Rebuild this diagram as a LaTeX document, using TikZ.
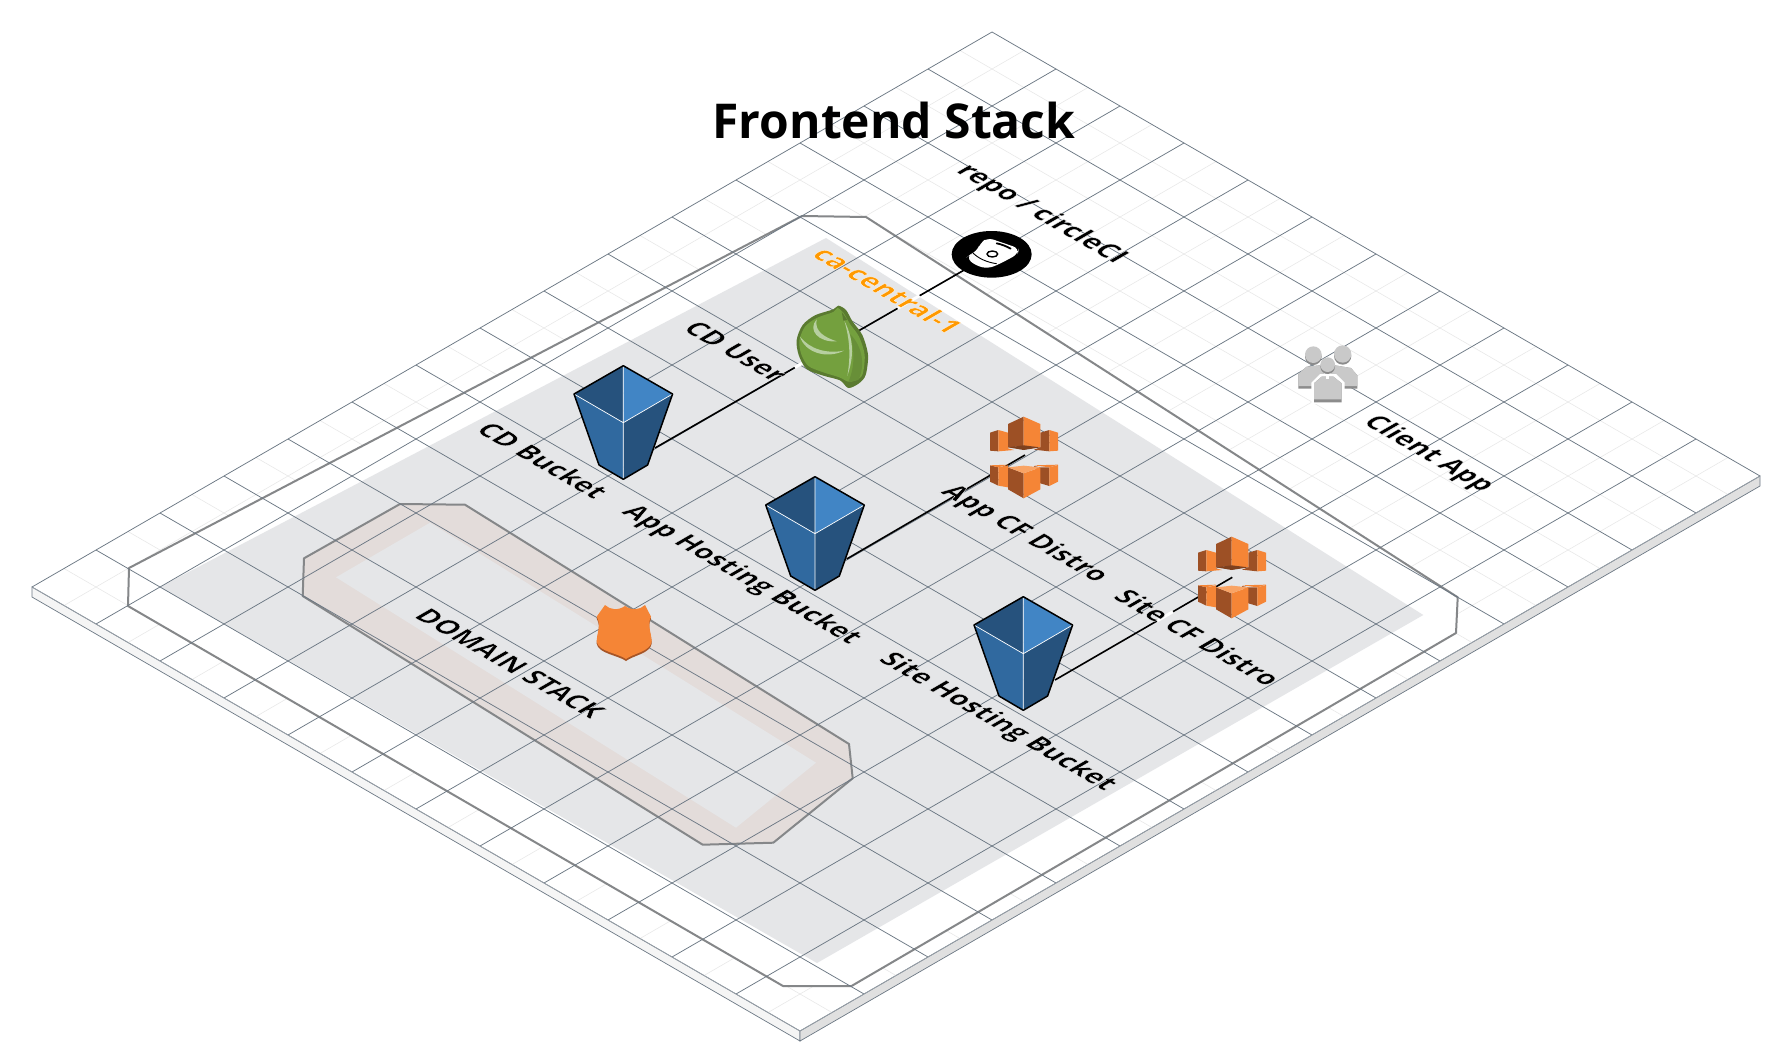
\documentclass[tikz,border=0pt]{standalone}
\usepackage{fontspec}
\usetikzlibrary{calc}
\setmainfont{Open Sans}
\newfontfamily\titlefont[UprightFont=* Bold]{Open Sans}
\newfontfamily\lblfont[UprightFont=* Bold,FakeBold=1.2]{Open Sans}
\definecolor{gridmaj}{HTML}{6C7884}
\definecolor{gridback}{HTML}{98A0A8}
\definecolor{gridmin}{HTML}{E9E9E9}
\definecolor{regiongray}{HTML}{E5E6E8}
\definecolor{beige}{HTML}{E3DCDA}
\definecolor{outlinegray}{HTML}{858789}
\definecolor{awsorange}{HTML}{F58536}
\definecolor{awsdark}{HTML}{9D5025}
\definecolor{awstop}{HTML}{F9A465}
\definecolor{bdark}{HTML}{26527D}
\definecolor{blight}{HTML}{4185C5}
\definecolor{bmid}{HTML}{30699F}
\definecolor{leaf}{HTML}{74A03E}
\definecolor{leafd}{HTML}{5A7A30}
\definecolor{leafm}{HTML}{688F38}
\definecolor{leafl}{HTML}{B7CFA0}
\definecolor{pgray}{HTML}{C9C9C9}
\definecolor{pdark}{HTML}{8C8C8C}
\definecolor{regionorange}{HTML}{FF9900}
\tikzset{
  majline/.style={draw=gridmaj,line width=0.75pt},
  minline/.style={draw=gridmin,line width=0.6pt},
  hull/.style={draw=outlinegray,line width=2pt,line join=round},
  conn/.style={draw=black,line width=1.6pt},
  labelgap/.style={draw=white,line width=3pt},
  zoomscale/.style={x=0.33333pt,y=-0.33333pt}
}
\newcommand\isolabel[5][black]{%
  \begin{scope}[cm={.866,-.5,.866,.5,(#3,#4)}]
  \node[transform shape,inner sep=0pt,text=#1] (#2) at (0,0)
    {\fontsize{27}{30}\selectfont\lblfont\special{pdf:code 1 1 1 RG}#5};
  \end{scope}}
\newcommand\awsbucket[3]{%
  \begin{scope}[shift={(#2,#3)}]
  \fill[bdark] (0,0) -- (-49.3,28.3) -- (0,57) -- cycle;
  \fill[blight] (0,0) -- (49.3,28.3) -- (0,57) -- cycle;
  \fill[bmid] (-49.3,28.3) -- (0,57) -- (0,113.6) -- (-24.3,99.3) -- cycle;
  \fill[bdark] (49.3,28.3) -- (0,57) -- (0,113.6) -- (24.3,99.3) -- cycle;
  \draw[white,line width=0.7pt] (-49.3,28.3) -- (0,57) -- (49.3,28.3) (0,0) -- (0,113.6);
  \draw[black,line width=1.5pt,line join=round] (0,0) -- (49.3,28.3) -- (24.3,99.3) -- (0,113.6) -- (-24.3,99.3) -- (-49.3,28.3) -- cycle;
  \end{scope}}
\newcommand\cficon[2]{%
  \begin{scope}[shift={(#1,#2)},zoomscale]
  % upper blocks
  \fill[awsdark] (30,68) -- (55,60) -- (55,124) -- (30,122) -- cycle;
  \fill[awsorange] (55,60) -- (84,68) -- (84,115) -- (102,120) -- (55,124) -- cycle;
  \fill[awsdark] (162,119) -- (181,112) -- (181,68) -- (208,60) -- (208,124) -- cycle;
  \fill[awsorange] (208,60) -- (234,68) -- (234,122) -- (208,124) -- cycle;
  \fill[awsdark] (84,42) -- (131,20) -- (131,108) -- (84,112) -- cycle;
  \fill[awsorange] (131,20) -- (181,42) -- (181,112) -- (131,108) -- cycle;
  \fill[awsdark!80!black] (84,112) -- (131,106) -- (181,112) -- (131,120) -- cycle;
  % lower blocks
  \fill[awsdark] (30,166) -- (55,172) -- (55,227) -- (30,215) -- cycle;
  \fill[awsorange] (55,172) -- (84,166) -- (84,232) -- (55,227) -- cycle;
  \fill[awsorange] (30,166) -- (84,164) -- (55,172) -- cycle;
  \fill[awsdark] (162,168) -- (181,172) -- (208,172) -- (208,228) -- (181,220) -- cycle;
  \fill[awsorange] (208,172) -- (234,165) -- (234,215) -- (208,228) -- cycle;
  \fill[awsorange] (162,166) -- (234,164) -- (208,172) -- cycle;
  \fill[awsdark] (84,172) -- (131,190) -- (131,265) -- (84,238) -- cycle;
  \fill[awsorange] (131,190) -- (181,172) -- (181,238) -- (131,265) -- cycle;
  \fill[awstop] (84,172) -- (131,167) -- (181,172) -- (131,190) -- cycle;
  \end{scope}}
\begin{document}
\begin{tikzpicture}[x=1pt,y=-1pt]
\fill[white] (0,0) rectangle (1792,1063);
\useasboundingbox (0,0) rectangle (1792,1063);
% named anchors
\coordinate (plL) at (32,587);
\coordinate (plT) at (992,32);
\coordinate (plR) at (1760,476);
\coordinate (plB) at (800,1031);
% platform sides
\fill[white] (plL) -- (plT) -- (plR) -- (plB) -- cycle;
\draw[fill=white!96!black,draw=gridmaj,line width=0.7pt] (plL) -- (plB) -- ++(0,10) -- ($(plL)+(0,10)$) -- cycle;
\draw[fill=white!88!black,draw=gridmaj,line width=0.7pt] (plB) -- (plR) -- ++(0,10) -- ($(plB)+(0,10)$) -- cycle;
% minor grid
\begin{scope}[shift={(32,587)},x={(64pt,37pt)},y={(64pt,-37pt)}]
\foreach \i in {0.5,1.5,...,14.5} \draw[minline] (\i,0) -- (\i,12);
\foreach \j in {0.5,1.5,...,11.5} \draw[minline] (0,\j) -- (15,\j);
\end{scope}
% outer hull
\draw[hull,fill=white] (129,568) -- (802,216) -- (866,217) -- (1457.7,597.3) -- (1456,633) -- (851.5,986) -- (783,986) -- (128,606) -- cycle;
% region
\fill[regiongray] (160,587) -- (826,238) -- (1423.3,615) -- (817,963) -- cycle;
% domain stack
\fill[beige] (400,504) -- (465,504.7) -- (849,744) -- (852.7,778.3) -- (773.3,842.7) -- (702.7,844.7) -- (302.7,596) -- (304,558.3) -- cycle;
\fill[regiongray] (336,577.3) -- (430,522.7) -- (816,762.7) -- (736,827.7) -- cycle;
\draw[hull] (400,504) -- (465,504.7) -- (849,744) -- (852.7,778.3) -- (773.3,842.7) -- (702.7,844.7) -- (302.7,596) -- (304,558.3) -- cycle;
% major grid
\begin{scope}[shift={(32,587)},x={(64pt,37pt)},y={(64pt,-37pt)}]
\foreach \i in {1,...,14} \draw[majline] (\i,0) -- (\i,12);
\foreach \j in {1,...,11} \draw[majline] (0,\j) -- (15,\j);
\draw[draw=gridback,line width=0.7pt] (0,0) -- (0,12);
\draw[draw=gridback,line width=0.7pt] (0,12) -- (15,12);
\draw[majline] (0,0) -- (15,0);
\draw[majline] (15,0) -- (15,12);
\end{scope}
% connector ends
\coordinate (bucketa) at (655,448);
\coordinate (bucketb) at (846.7,559);
\coordinate (bucketc) at (1055,680);
\coordinate (repoend) at (992,254);
\coordinate (cfa) at (1025,455);
\coordinate (cfb) at (1232.3,577.3);
\draw[conn] (bucketa) -- (repoend);
\draw[conn] (bucketb) -- (cfa);
\draw[conn] (bucketc) -- (cfb);
% where labels cross a connector, their halo breaks it
\draw[labelgap] ($(bucketa)!0.415!(repoend)$) -- ($(bucketa)!0.445!(repoend)$);
\draw[labelgap] ($(bucketa)!0.72!(repoend)$) -- ($(bucketa)!0.785!(repoend)$);
\draw[labelgap] ($(bucketb)!0.83!(cfa)$) -- ($(bucketb)!0.86!(cfa)$);
\draw[labelgap] ($(bucketc)!0.575!(cfb)$) -- ($(bucketc)!0.665!(cfb)$);
% buckets
\awsbucket{bka}{623.3}{365.7}
\awsbucket{bkb}{815}{476.7}
\awsbucket{bkc}{1023.3}{596.7}
% CloudFront
\cficon{980}{410}
\cficon{1188}{530}
% repo circle
\begin{scope}[shift={(945,215)},zoomscale]
\fill[black] (140,118) ellipse [x radius=120,y radius=70];
\fill[white,rounded corners=6pt] (128,68) -- (222,100) -- (218,118) -- (165,146) -- (130,161) -- (92,152) -- (64,128) -- (78,117) -- (95,110) -- (105,85) -- cycle;
\draw[black,line width=1.8pt,line cap=round] (155,85) .. controls (170,88) and (185,94) .. (197,101);
\draw[black,line width=1.4pt] (142,117) ellipse [x radius=16,y radius=9];
\draw[black,line width=0.9pt] (84,114) .. controls (100,130) and (125,142) .. (155,146);
\end{scope}
% CD user leaf
\begin{scope}[shift={(790,300)},zoomscale]
\fill[leafd] plot[smooth cycle] coordinates {(145,17) (168,30) (188,65) (217,105) (234,165) (227,225) (207,250) (175,264) (150,241) (100,227) (50,207) (26,165) (20,120) (38,75) (75,46) (130,28)};
\fill[leaf] plot[smooth cycle] coordinates {(142,24) (160,38) (180,72) (207,110) (224,165) (218,222) (200,240) (175,245) (148,232) (100,217) (55,198) (34,163) (28,122) (45,80) (80,54) (130,36)};
\fill[leafm] (178,100) .. controls (220,140) and (225,200) .. (205,240) -- (175,246) .. controls (195,200) and (195,150) .. (178,100) -- cycle;
\fill[leafl] (80,58) .. controls (52,90) and (85,128) .. (140,124) .. controls (105,112) and (72,95) .. (80,58) -- cycle;
\fill[leafl] (30,110) .. controls (45,158) and (110,178) .. (162,152) .. controls (110,162) and (60,148) .. (30,110) -- cycle;
\fill[leafl] (163,62) .. controls (192,120) and (192,170) .. (172,228) .. controls (182,170) and (180,120) .. (163,62) -- cycle;
\fill[leafd] (155,35) -- (172,60) -- (160,62) -- cycle;
\end{scope}
% Client people
\begin{scope}[shift={(1290,340)},zoomscale]
\fill[pdark] (25,146) -- (25,102) -- (50,80) -- (90,76) -- (105,110) -- (66,146) -- cycle;
\fill[pgray] (25,138) -- (25,102) -- (50,80) -- (90,76) -- (105,105) -- (66,138) -- cycle;
\fill[pdark] (202,146) -- (202,106) -- (183,84) -- (135,76) -- (122,108) -- (162,146) -- cycle;
\fill[pgray] (202,138) -- (202,106) -- (183,84) -- (135,76) -- (122,104) -- (162,138) -- cycle;
\fill[pdark] (70,50) circle [radius=25];
\fill[pgray] (70,44) circle [radius=25];
\fill[pdark] (158,48) circle [radius=26];
\fill[pgray] (158,42) circle [radius=26];
\fill[white] (64,192) -- (64,128) -- (90,102) -- (138,102) -- (164,128) -- (164,192) -- cycle;
\fill[pdark] (72,187) -- (72,130) -- (95,110) -- (130,110) -- (155,130) -- (155,187) -- cycle;
\fill[pgray] (72,178) -- (72,130) -- (95,110) -- (130,110) -- (155,130) -- (155,178) -- cycle;
\fill[white] (109,52) rectangle (118,118);
\fill[pdark] (113,80) circle [radius=22];
\fill[pgray] (113,74) circle [radius=22];
\end{scope}
% Route 53 shield
\begin{scope}[shift={(550,570)},zoomscale]
\fill[awsdark!90!awsorange] (165,111) .. controls (180,126) and (205,128) .. (225,114) .. controls (245,128) and (270,126) .. (285,111) -- (303,146) .. controls (290,171) and (305,196) .. (305,221) .. controls (300,251) and (250,256) .. (228,273) .. controls (205,256) and (145,251) .. (140,221) .. controls (140,196) and (155,171) .. (140,146) -- cycle;
\fill[awsorange] (165,105) .. controls (180,120) and (205,122) .. (225,108) .. controls (245,122) and (270,120) .. (285,105) -- (303,140) .. controls (290,165) and (305,190) .. (305,215) .. controls (300,245) and (250,250) .. (228,267) .. controls (205,250) and (145,245) .. (140,215) .. controls (140,190) and (155,165) .. (140,140) -- cycle;
\end{scope}
% labels
\isolabel{lbrepo}{1041}{214}{repo / circleCI}
\isolabel[regionorange]{lbregion}{888}{290}{ca-central-1}
\isolabel{lbuser}{736}{351}{CD User}
\isolabel{lbbucket}{543}{460}{CD Bucket}
\isolabel{lbapp}{741}{575}{App Hosting Bucket}
\isolabel{lbappcf}{1024}{534}{App CF Distro}
\isolabel{lbsitecf}{1198}{637}{Site CF Distro}
\isolabel{lbsite}{997}{722}{Site Hosting Bucket}
\isolabel{lbdomain}{510}{663}{DOMAIN STACK}
\isolabel{lbclient}{1428}{454}{Client App}
\node[inner sep=0pt] (title) at (894,120) {\fontsize{48}{54}\selectfont\titlefont Frontend Stack};
\end{tikzpicture}
\end{document}
